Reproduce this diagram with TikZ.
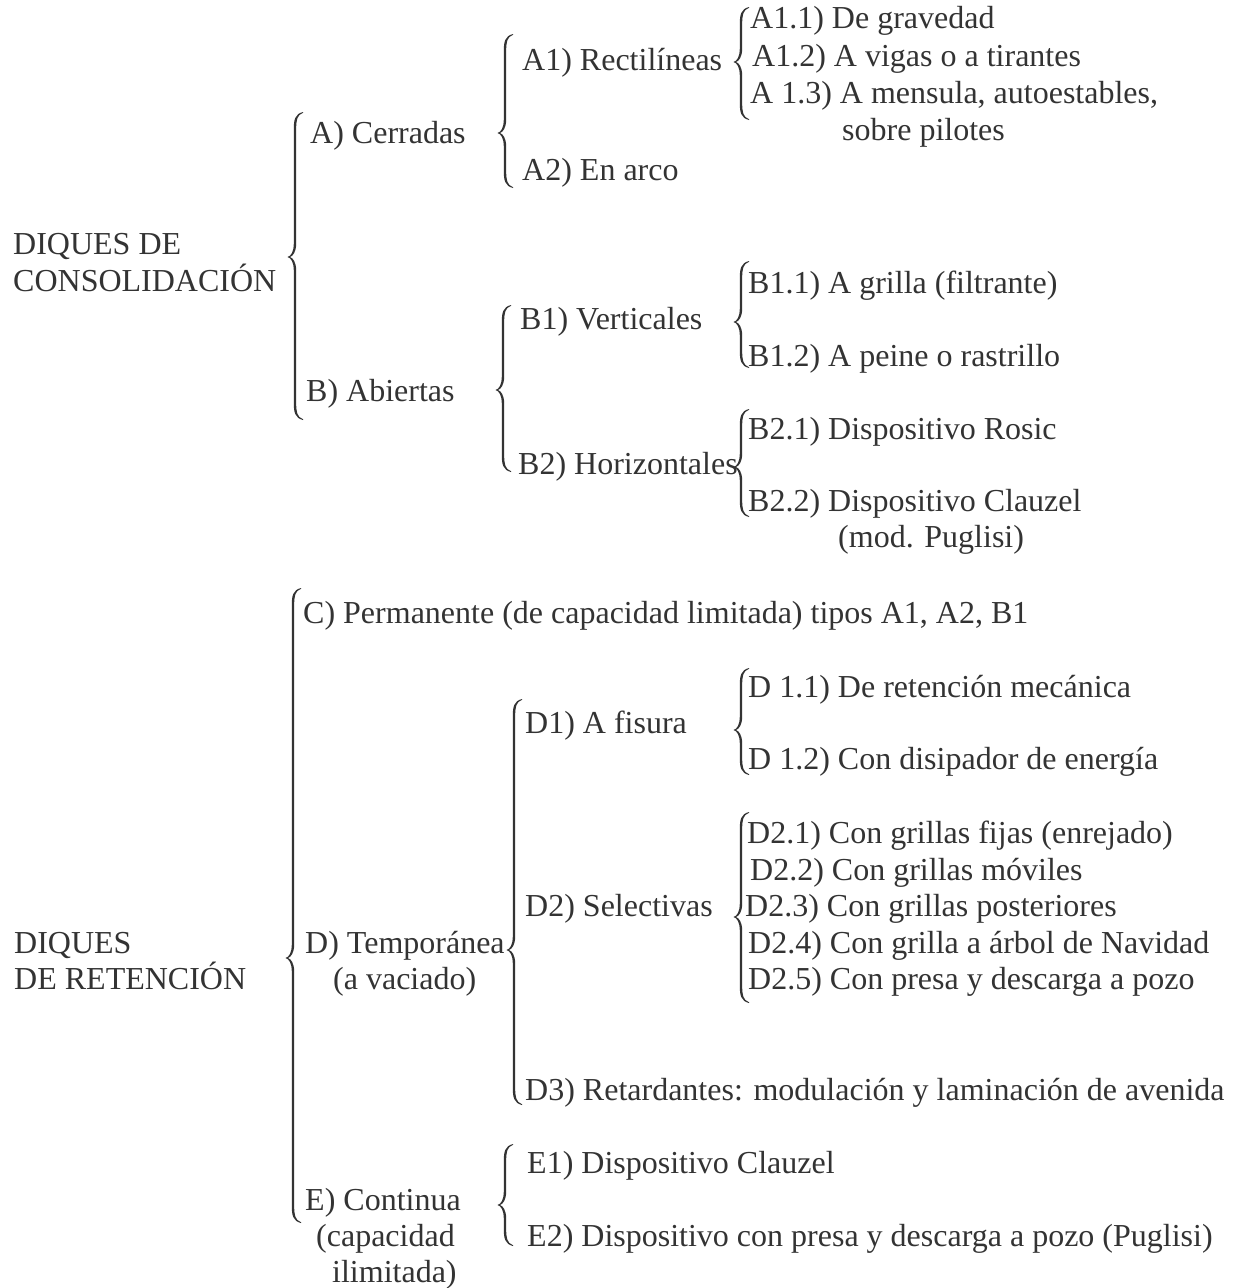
\documentclass[tikz,border=0pt]{standalone}
\usepackage{fontspec}
\setmainfont{Liberation Serif}
\definecolor{ink}{RGB}{51,51,51}
% filled, tapered curly brace: #1 = x of the stem, #2 = top, #3 = tip, #4 = bottom
\newcommand\cbrace[4]{%
  \fill[ink]
    ({#1+8},#2) .. controls ({#1-0.2},{#2+2}) and ({#1-1.2},{#2+8}) .. ({#1-1.2},{#2+17})
    -- ({#1-1.2},{#3-14}) .. controls ({#1-1.2},{#3-5}) and ({#1-4},{#3-1}) .. ({#1-7.5},#3)
    .. controls ({#1-4},{#3+1}) and ({#1-1.2},{#3+5}) .. ({#1-1.2},{#3+14})
    -- ({#1-1.2},{#4-17}) .. controls ({#1-1.2},{#4-8}) and ({#1-0.2},{#4-2}) .. ({#1+8},#4)
    -- ({#1+8},{#4-0.8}) .. controls ({#1+2},{#4-3}) and ({#1+1.2},{#4-8}) .. ({#1+1.2},{#4-17})
    -- ({#1+1.2},{#3+14}) .. controls ({#1+1.2},{#3+5}) and ({#1-2},{#3+1}) .. ({#1-5},#3)
    .. controls ({#1-2},{#3-1}) and ({#1+1.2},{#3-5}) .. ({#1+1.2},{#3-14})
    -- ({#1+1.2},{#2+17}) .. controls ({#1+1.2},{#2+8}) and ({#1+2},{#2+3}) .. ({#1+8},{#2+0.8})
    -- cycle;}
\begin{document}
\begin{tikzpicture}[x=1pt,y=-1pt,
  t/.style={anchor=base west, inner sep=0pt, text=ink, font=\fontsize{32}{36}\selectfont}]
\useasboundingbox (0,0) rectangle (1234,1288);
% ---------- upper block ----------
\node[t] (cons1) at (13,254) {DIQUES DE};
\node[t] (cons2) at (13,291) {CONSOLIDACIÓN};
\cbrace{295}{112}{257}{420}
\node[t] (A) at (310,143) {A) Cerradas};
\node[t] (B) at (306,401) {B) Abiertas};
\cbrace{505}{34}{133}{188}
\node[t] (A1) at (522,70) {A1) Rectilíneas};
\node[t] (A2) at (522,180) {A2) En arco};
\cbrace{741}{7}{62}{120}
\node[t] (A11) at (750,28) {A1.1) De gravedad};
\node[t] (A12) at (752,66) {A1.2) A vigas o a tirantes};
\node[t] (A13) at (750,103) {A 1.3) A mensula, autoestables,};
\node[t] (A13b) at (842,140) {sobre pilotes};
\cbrace{503}{305}{390}{472}
\node[t] (B1) at (520,329) {B1) Verticales};
\node[t] (B2) at (518,474) {B2) Horizontales};
\cbrace{741}{261}{322}{368}
\node[t] (B11) at (748,293) {B1.1) A grilla (filtrante)};
\node[t] (B12) at (748,366) {B1.2) A peine o rastrillo};
\cbrace{741}{409}{467}{517}
\node[t] (B21) at (748,439) {B2.1) Dispositivo Rosic};
\node[t] (B22) at (748,511) {B2.2) Dispositivo Clauzel};
\node[t] (B22b) at (838,547) {(mod. Puglisi)};
% ---------- lower block ----------
\node[t] (ret1) at (14,953) {DIQUES};
\node[t] (ret2) at (14,989) {DE RETENCIÓN};
\cbrace{293}{588}{958}{1223}
\node[t] (C) at (303,623) {C) Permanente (de capacidad limitada) tipos A1, A2, B1};
\node[t] (D) at (305,953) {D) Temporánea};
\node[t] (Db) at (333,989) {(a vaciado)};
\node[t] (E) at (305,1210) {E) Continua};
\node[t] (Eb) at (316,1246) {(capacidad};
\node[t] (Ec) at (332,1282) {ilimitada)};
\cbrace{514}{699}{950}{1105}
\node[t] (D1) at (525,733) {D1) A fisura};
\node[t] (D2) at (525,916) {D2) Selectivas};
\node[t] (D3) at (525,1100) {D3) Retardantes: modulación y laminación de avenida};
\cbrace{741}{668}{730}{775}
\node[t] (D11) at (748,697) {D 1.1) De retención mecánica};
\node[t] (D12) at (748,769) {D 1.2) Con disipador de energía};
\cbrace{741}{812}{917}{1003}
\node[t] (D21) at (747,843) {D2.1) Con grillas fijas (enrejado)};
\node[t] (D22) at (750,880) {D2.2) Con grillas móviles};
\node[t] (D23) at (745,916) {D2.3) Con grillas posteriores};
\node[t] (D24) at (748,953) {D2.4) Con grilla a árbol de Navidad};
\node[t] (D25) at (748,989) {D2.5) Con presa y descarga a pozo};
\cbrace{505}{1144}{1205}{1246}
\node[t] (E1) at (527,1173) {E1) Dispositivo Clauzel};
\node[t] (E2) at (527,1246) {E2) Dispositivo con presa y descarga a pozo (Puglisi)};
\end{tikzpicture}
\end{document}
